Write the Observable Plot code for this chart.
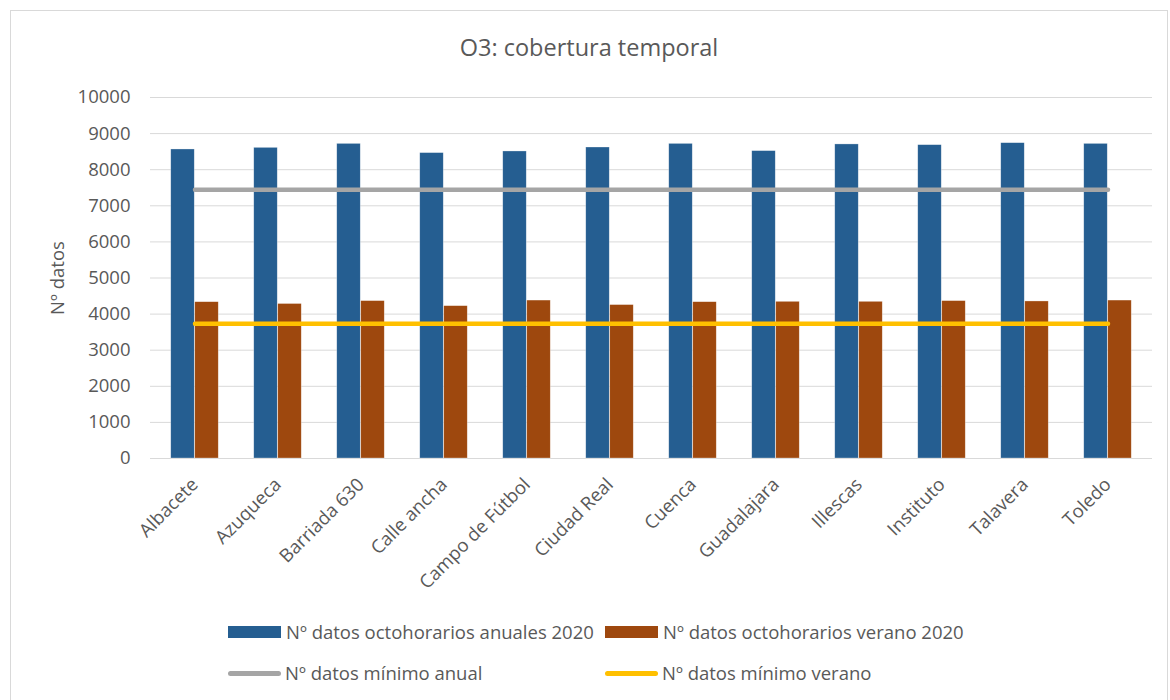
<!DOCTYPE html>
<html><head><meta charset="utf-8">
<script src="https://cdn.jsdelivr.net/npm/d3@7"></script>
<script src="https://cdn.jsdelivr.net/npm/@observablehq/plot@0.6"></script>
<style>
body{margin:0;background:#fff;font-family:"Open Sans",sans-serif;color:#595959;width:1170px;height:700px;overflow:hidden;position:relative;}
#frame{position:absolute;left:10px;top:10px;width:1158px;height:700px;border:1px solid #d9d9d9;box-sizing:border-box;}
#title{position:absolute;left:10px;width:1158px;top:31px;text-align:center;font-size:23.5px;line-height:32px;}
#chart{position:absolute;left:10px;top:80px;}
.leg{position:absolute;font-size:18.5px;line-height:24px;white-space:nowrap;display:flex;align-items:center;}
.sw{display:inline-block;width:53px;height:12px;margin-right:5px;}
.ln{display:inline-block;width:53px;height:5px;border-radius:3px;margin-right:4px;}
</style></head>
<body>
<div id="frame"></div>
<div id="title">O3: cobertura temporal</div>
<div id="chart"></div>
<div id="legend"></div>
<script>
const estaciones = ["Albacete","Azuqueca","Barriada 630","Calle ancha","Campo de Fútbol","Ciudad Real","Cuenca","Guadalajara","Illescas","Instituto","Talavera","Toledo"];
const anual2020 = [8560,8605,8715,8460,8505,8615,8715,8515,8700,8680,8735,8715];
const verano2020 = [4330,4280,4360,4220,4375,4250,4330,4340,4340,4360,4350,4375];
const minimoAnual = 7446;
const minimoVerano = 3733;
const yTicks = [0,1000,2000,3000,4000,5000,6000,7000,8000,9000,10000];
const serieNombres = ["Nº datos octohorarios anuales 2020","Nº datos octohorarios verano 2020","Nº datos mínimo anual","Nº datos mínimo verano"];
const colores = ["#255E91","#9E480E","#A5A5A5","#FFC000"];

const W = 1150, ML = 140, MR = 8;
const bw = (W - ML - MR) / estaciones.length;
const barW = 24;

const anualData = estaciones.map((e,i)=>({estacion:e, valor:anual2020[i]}));
const veranoData = estaciones.map((e,i)=>({estacion:e, valor:verano2020[i]}));
const minAnualData = estaciones.map(e=>({estacion:e, valor:minimoAnual}));
const minVeranoData = estaciones.map(e=>({estacion:e, valor:minimoVerano}));

const chart = Plot.plot({
  width: W, height: 540,
  marginLeft: ML, marginRight: MR, marginTop: 17, marginBottom: 162,
  style: {fontFamily: '"Open Sans", sans-serif', fontSize: "18.5px", color: "#595959", background: "transparent"},
  x: {type: "band", domain: estaciones, padding: 0, label: null, tickSize: 0, tickPadding: 23, tickRotate: -45},
  y: {domain: [0, 10000], ticks: yTicks, tickFormat: d => String(d), label: null, tickSize: 0, tickPadding: 20, grid: false},
  marks: [
    Plot.ruleY(yTicks, {stroke: "#D9D9D9", strokeWidth: 1}),
    Plot.barY(anualData, {x: "estacion", y: "valor", fill: colores[0], stroke: "#ffffff", strokeOpacity: 0.5, strokeWidth: 0.6, insetLeft: bw/2 - barW, insetRight: bw/2}),
    Plot.barY(veranoData, {x: "estacion", y: "valor", fill: colores[1], stroke: "#ffffff", strokeOpacity: 0.5, strokeWidth: 0.6, insetLeft: bw/2, insetRight: bw/2 - barW}),
    Plot.lineY(minAnualData, {x: "estacion", y: "valor", stroke: colores[2], strokeWidth: 4.5, strokeLinecap: "round"}),
    Plot.lineY(minVeranoData, {x: "estacion", y: "valor", stroke: colores[3], strokeWidth: 4.5, strokeLinecap: "round"}),
    Plot.text(["Nº datos"], {frameAnchor: "left", textAnchor: "middle", dx: -92, rotate: -90, fontSize: 18.5, fill: "#595959"})
  ]
});
document.getElementById("chart").appendChild(chart);

const legendPos = [
  {left: 228, top: 620, type: "sw"},
  {left: 605, top: 620, type: "sw"},
  {left: 228, top: 661, type: "ln"},
  {left: 605, top: 661, type: "ln"}
];
const leg = document.getElementById("legend");
serieNombres.forEach((n,i)=>{
  const d = document.createElement("div");
  d.className = "leg";
  d.style.left = legendPos[i].left + "px";
  d.style.top = legendPos[i].top + "px";
  const s = document.createElement("span");
  s.className = legendPos[i].type;
  s.style.background = colores[i];
  d.appendChild(s);
  const t = document.createElement("span");
  t.textContent = n;
  d.appendChild(t);
  leg.appendChild(d);
});
</script>
</body></html>
